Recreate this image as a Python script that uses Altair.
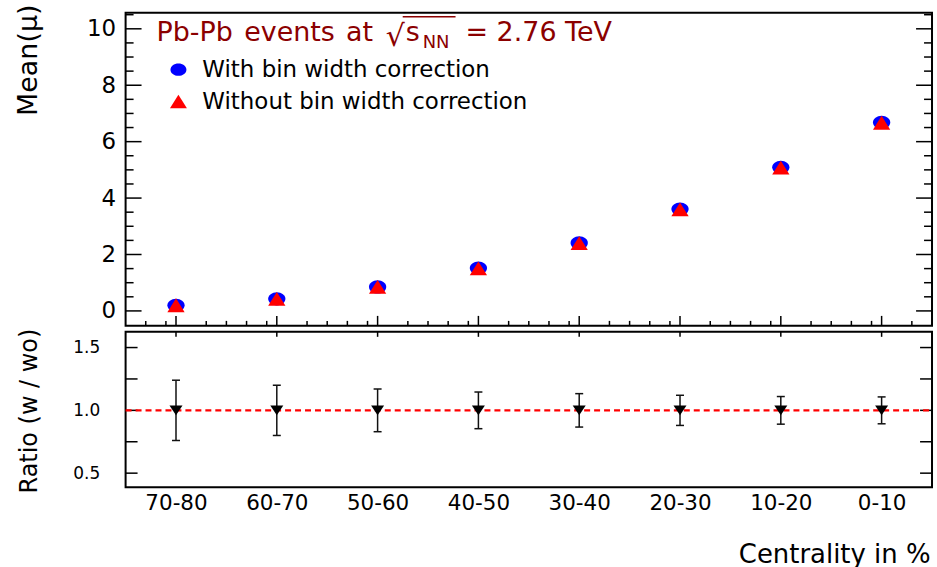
import json
import altair as alt
import pandas as pd

# ---------------- data ----------------
categories = ["70-80", "60-70", "50-60", "40-50", "30-40", "20-30", "10-20", "0-10"]
mean_with = [0.20, 0.43, 0.85, 1.52, 2.41, 3.61, 5.09, 6.68]
mean_without = [0.20, 0.43, 0.85, 1.51, 2.40, 3.60, 5.08, 6.67]
ratio = [1.00, 1.00, 1.00, 1.00, 1.00, 1.00, 1.00, 1.00]
ratio_err = [0.24, 0.20, 0.17, 0.146, 0.133, 0.12, 0.11, 0.107]

mean_major_ticks = [0, 2, 4, 6, 8, 10]
mean_minor_ticks = [0.5, 1, 1.5, 2.5, 3, 3.5, 4.5, 5, 5.5, 6.5, 7, 7.5, 8.5, 9, 9.5, 10.5]
ratio_ticks = [0.5, 0.75, 1.0, 1.25, 1.5]
ratio_labels = [0.5, 1.0, 1.5]
ratio_reference = [1.0]

legend_with = "With bin width correction"
legend_without = "Without bin width correction"
title_words = ["Pb-Pb", "events", "at"]

# ---------------- layout constants ----------------
W, H1, H2 = 809, 314, 156
FONT = "DejaVu Sans"
DARKRED = "#8B0000"

# marker outlines (unit box, scaled by size)
ELLIPSE = "M-1,0A1,0.77 0 1,1 1,0A1,0.77 0 1,1 -1,0Z"
TRI_UP = "M0,-0.8L1,0.8L-1,0.8Z"
TRI_DOWN = "M-1,-0.75L1,-0.75L0,0.75Z"

idx = list(range(len(categories)))
df = pd.DataFrame({
    "idx": idx, "cat": categories, "mw": mean_with, "mwo": mean_without,
    "r": ratio, "e": ratio_err,
})
df["lo"] = df["r"] - df["e"]
df["hi"] = df["r"] + df["e"]

x_major = pd.DataFrame({"t": idx})
x_minor = pd.DataFrame({"t": [round(-0.5 + 0.2 * k, 2) for k in range(1, 40) if (k - 3) % 5 != 0]})
y1_major = pd.DataFrame({"v": mean_major_ticks})
y1_minor = pd.DataFrame({"v": mean_minor_ticks})
y2_ticks = pd.DataFrame({"v": ratio_ticks})
one = pd.DataFrame({"a": [0]})

xscale = alt.Scale(domain=[-0.5, 7.5], nice=False, zero=False)
y1scale = alt.Scale(domain=[-0.53, 10.565], nice=False, zero=False)
y2scale = alt.Scale(domain=[0.387, 1.625], nice=False, zero=False)

label_expr = json.dumps(categories) + "[datum.value]"

axis_y1 = alt.Axis(
    values=mean_major_ticks, ticks=False, tickSize=0, domain=False, grid=False,
    labelFont=FONT, labelFontSize=23, labelPadding=10, labelColor="black", format="d",
    title="Mean(μ)", titleFont=FONT, titleFontSize=27, titleFontWeight="normal",
    titleColor="black", titleAngle=270, titleAlign="center", titleBaseline="middle",
    titleX=-97, titleY=47,
)
axis_y2 = alt.Axis(
    values=ratio_labels, ticks=False, tickSize=0, domain=False, grid=False,
    labelFont=FONT, labelFontSize=17, labelPadding=26, labelColor="black", format=".1f",
    title="Ratio (w / wo)", titleFont=FONT, titleFontSize=24, titleFontWeight="normal",
    titleColor="black", titleAngle=270, titleAlign="center", titleBaseline="middle",
    titleX=-96, titleY=79,
)
axis_x2 = alt.Axis(
    values=idx, labelExpr=label_expr, ticks=False, tickSize=0, domain=False, grid=False,
    labelFont=FONT, labelFontSize=21.5, labelPadding=5, labelColor="black",
    title="Centrality in %", titleFont=FONT, titleFontSize=26, titleFontWeight="normal",
    titleColor="black", titleAlign="right", titleBaseline="alphabetic",
    titleX=W - 2, titleY=75,
)

# ---------------- top panel ----------------
X1 = alt.X("idx:Q", scale=xscale, axis=None)
circles = alt.Chart(df).mark_point(shape=ELLIPSE, filled=True, size=300, color="#0000ff", opacity=1).encode(
    x=X1, y=alt.Y("mw:Q", scale=y1scale, axis=axis_y1))
tris = alt.Chart(df).mark_point(shape=TRI_UP, filled=True, size=300, color="#ff0000", opacity=1).encode(
    x=X1, y=alt.Y("mwo:Q", scale=y1scale, axis=axis_y1))

def yticks(data, scale, axis, x0, x1):
    return alt.Chart(data).mark_rule(color="black", strokeWidth=1.5).encode(
        y=alt.Y("v:Q", scale=scale, axis=axis), x=alt.value(x0), x2=alt.value(x1))

def xticks(data, axis, y0, y1):
    return alt.Chart(data).mark_rule(color="black", strokeWidth=1.5).encode(
        x=alt.X("t:Q", scale=xscale, axis=axis), y=alt.value(y0), y2=alt.value(y1))

top_ticks = [
    yticks(y1_major, y1scale, axis_y1, 0, 16),
    yticks(y1_minor, y1scale, axis_y1, 0, 8),
    yticks(y1_major, y1scale, axis_y1, W - 16, W),
    yticks(y1_minor, y1scale, axis_y1, W - 8, W),
    xticks(x_major, None, H1 - 10, H1),
    xticks(x_minor, None, H1 - 5, H1),
]

def label(text, x, y, size, color="black", align="left", font=FONT):
    return alt.Chart(one).mark_text(
        text=text, font=font, fontSize=size, color=color, align=align, baseline="alphabetic"
    ).encode(x=alt.value(x), y=alt.value(y))

title_parts = [
    label(title_words[0], 31, 28, 27, DARKRED),
    label(title_words[1], 119, 28, 27, DARKRED),
    label(title_words[2], 221, 28, 27, DARKRED),
    label("√", 280, 33, 30, DARKRED, align="right"),
    label("s", 281, 28, 27, DARKRED),
    label("NN", 298, 35.5, 18, DARKRED),
    label("= 2.76 TeV", 341, 28, 27, DARKRED),
]
overbar = alt.Chart(one).mark_rule(color=DARKRED, strokeWidth=1.5).encode(
    x=alt.value(278), x2=alt.value(331), y=alt.value(4))

leg_circle = alt.Chart(one).mark_point(shape=ELLIPSE, filled=True, size=256, color="#0000ff", opacity=1).encode(
    x=alt.value(53), y=alt.value(57))
leg_tri = alt.Chart(one).mark_point(shape=TRI_UP, filled=True, size=289, color="#ff0000", opacity=1).encode(
    x=alt.value(53), y=alt.value(89))
leg_texts = [label(legend_with, 77, 64.5, 23), label(legend_without, 77, 96.3, 23)]

top = alt.layer(
    *top_ticks, circles, tris, *title_parts, overbar, leg_circle, leg_tri, *leg_texts
).properties(width=W, height=H1)

# ---------------- bottom panel ----------------
X2 = alt.X("idx:Q", scale=xscale, axis=axis_x2)
dashed = alt.Chart(pd.DataFrame({"v": ratio_reference})).mark_rule(
    color="#ff0000", strokeDash=[6, 4], strokeWidth=2.2).encode(
    y=alt.Y("v:Q", scale=y2scale, axis=axis_y2), x=alt.value(0), x2=alt.value(W))
err = alt.Chart(df).mark_rule(color="#111111", strokeWidth=1.5).encode(
    x=X2, y=alt.Y("lo:Q", scale=y2scale, axis=axis_y2), y2="hi:Q")
cap_hi = alt.Chart(df).mark_tick(orient="horizontal", size=8, thickness=1.5, color="#111111", opacity=1).encode(
    x=X2, y=alt.Y("hi:Q", scale=y2scale, axis=axis_y2))
cap_lo = alt.Chart(df).mark_tick(orient="horizontal", size=8, thickness=1.5, color="#111111", opacity=1).encode(
    x=X2, y=alt.Y("lo:Q", scale=y2scale, axis=axis_y2))
rmark = alt.Chart(df).mark_point(shape=TRI_DOWN, filled=True, size=170, color="black", opacity=1).encode(
    x=X2, y=alt.Y("r:Q", scale=y2scale, axis=axis_y2))
bottom_ticks = [
    yticks(y2_ticks, y2scale, axis_y2, 0, 12),
    yticks(y2_ticks, y2scale, axis_y2, W - 12, W),
    xticks(x_major, axis_x2, 0, 5),
]
bottom = alt.layer(*bottom_ticks, dashed, err, cap_hi, cap_lo, rmark).properties(width=W, height=H2)

chart = alt.vconcat(top, bottom, spacing=-1).properties(
    padding={"left": 14, "top": 2, "right": 2, "bottom": 0},
    background="white",
).configure_view(stroke="black", strokeWidth=2)

chart.save("out.html", embed_options={"renderer": "svg", "actions": False})
